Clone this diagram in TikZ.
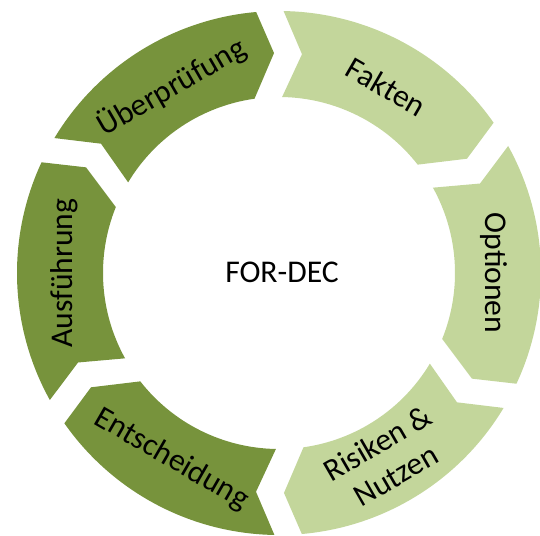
\documentclass[tikz,border=0pt]{standalone}
\usepackage{fontspec}
\setmainfont{Carlito}
\definecolor{olivelight}{HTML}{C3D69B}
\definecolor{olivedark}{HTML}{77933C}
\tikzset{
  lightseg/.style={fill=olivelight},
  darkseg/.style={fill=olivedark},
  lbl/.style={font=\fontsize{18}{21}\selectfont, text=black, align=center, inner sep=0pt}
}
\begin{document}
\begin{tikzpicture}
\useasboundingbox (-5.58,-5.24) rectangle (5.22,5.46);
% ring of six chevron segments, clockwise
\fill[lightseg] (89:5.24) arc[start angle=89, end angle=35, radius=5.24] -- (31.3:4.4) -- (38:3.52)
   arc[start angle=38, end angle=89, radius=3.52] -- (84:4.4) -- cycle;
\fill[lightseg] (29:5.24) arc[start angle=29, end angle=-25, radius=5.24] -- (-28.7:4.4) -- (-22:3.52)
   arc[start angle=-22, end angle=29, radius=3.52] -- (24:4.4) -- cycle;
\fill[lightseg] (-31:5.24) arc[start angle=-31, end angle=-85, radius=5.24] -- (-88.7:4.4) -- (-82:3.52)
   arc[start angle=-82, end angle=-31, radius=3.52] -- (-36:4.4) -- cycle;
\fill[darkseg] (-91:5.24) arc[start angle=-91, end angle=-145, radius=5.24] -- (-148.7:4.4) -- (-142:3.52)
   arc[start angle=-142, end angle=-91, radius=3.52] -- (-96:4.4) -- cycle;
\fill[darkseg] (209:5.24) arc[start angle=209, end angle=155, radius=5.24] -- (151.3:4.4) -- (158:3.52)
   arc[start angle=158, end angle=209, radius=3.52] -- (204:4.4) -- cycle;
\fill[darkseg] (149:5.24) arc[start angle=149, end angle=95, radius=5.24] -- (91.3:4.4) -- (98:3.52)
   arc[start angle=98, end angle=149, radius=3.52] -- (144:4.4) -- cycle;
% labels
\node[lbl, rotate=-30] (fakten) at (60:4.3) {Fakten};
\node[lbl, rotate=-90] (optionen) at (0:4.3) {Optionen};
\node[lbl, rotate=30] (risiken) at (-60:4.3) {Risiken \&\\Nutzen};
\node[lbl, rotate=-30] (entscheidung) at (-120:4.3) {Entscheidung};
\node[lbl, rotate=90] (ausfuehrung) at (180:4.3) {Ausführung};
\node[lbl, rotate=30] (ueberpruefung) at (120:4.3) {Überprüfung};
\node[lbl] (fordec) at (0.06,0.02) {FOR-DEC};
\end{tikzpicture}
\end{document}
